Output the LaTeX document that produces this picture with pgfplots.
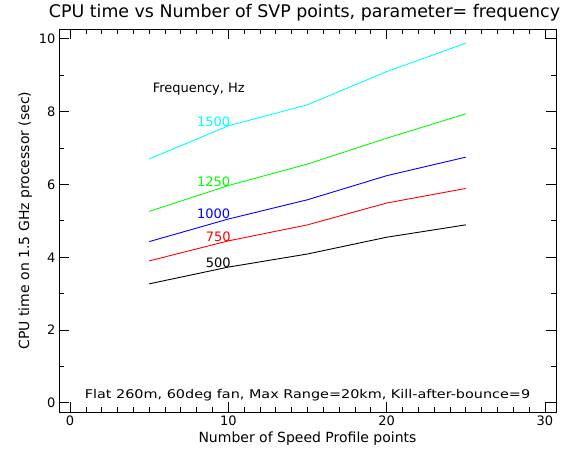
\documentclass[border=0pt]{standalone}
\usepackage{fontspec}
\setmainfont{DejaVu Sans}
\newfontfamily\widefont{DejaVu Sans}[FakeStretch=1.2]
\usepackage{pgfplots}
\pgfplotsset{compat=1.18}
\definecolor{idlcyan}{rgb}{0,1,1}
\definecolor{idlgreen}{rgb}{0,1,0}
\definecolor{idlblue}{rgb}{0,0,1}
\definecolor{idlred}{rgb}{1,0,0}

\begin{document}
\begin{tikzpicture}
\begin{axis}[
    scale only axis,
    width=497pt, height=383pt,
    xmin=-0.7, xmax=30.7,
    ymin=-0.25, ymax=10.27,
    xtick={0,10,20,30}, ytick={0,2,4,6,8,10},
    minor x tick num=9, minor y tick num=1,
    tick align=inside,
    major tick length=10pt, minor tick length=5pt,
    tick style={black, line width=0.8pt},
    axis line style={line width=0.8pt},
    /pgf/number format/assume math mode=true,
    ticklabel style={font=\fontsize{13}{15}\selectfont},
    label style={font=\fontsize{14}{16}\selectfont},
    title style={font=\fontsize{17.4}{19}\selectfont, yshift=-2pt, xshift=-3pt},
    title={CPU time vs Number of SVP points, parameter= frequency},
    xlabel={Number of Speed Profile points},
    ylabel={CPU time on 1.5 GHz processor (sec)},
    every axis plot/.append style={line width=0.9pt},
]
\addplot[idlcyan]  coordinates {(5,6.70)(10,7.61)(15,8.19)(20,9.10)(25,9.88)};
\addplot[idlgreen] coordinates {(5,5.26)(10,5.97)(15,6.56)(20,7.27)(25,7.94)};
\addplot[idlblue]  coordinates {(5,4.43)(10,5.05)(15,5.58)(20,6.24)(25,6.75)};
\addplot[idlred]   coordinates {(5,3.90)(10,4.45)(15,4.89)(20,5.49)(25,5.89)};
\addplot[black]    coordinates {(5,3.27)(10,3.73)(15,4.09)(20,4.55)(25,4.89)};

\node[anchor=west, font=\fontsize{13}{15}\selectfont] at (axis cs:5.0,8.63) {Frequency, Hz};
\node[anchor=west, idlcyan,  font=\fontsize{13}{15}\selectfont] at (axis cs:7.8,7.72) {1500};
\node[anchor=west, idlgreen, font=\fontsize{13}{15}\selectfont] at (axis cs:7.8,6.07) {1250};
\node[anchor=west, idlblue,  font=\fontsize{13}{15}\selectfont] at (axis cs:7.8,5.19) {1000};
\node[anchor=west, idlred,   font=\fontsize{13}{15}\selectfont] at (axis cs:8.35,4.56) {750};
\node[anchor=west, black,    font=\fontsize{13}{15}\selectfont] at (axis cs:8.35,3.85) {500};
\node[font=\widefont\fontsize{12}{14}\selectfont] at (axis cs:15,0.2) {Flat 260m, 60deg fan, Max Range=20km, Kill-after-bounce=9};
\end{axis}
\pgfresetboundingbox
\path[use as bounding box] (current axis.south west) ++(-59pt,-42pt) rectangle ++(566pt,454pt);
\end{tikzpicture}
\end{document}
